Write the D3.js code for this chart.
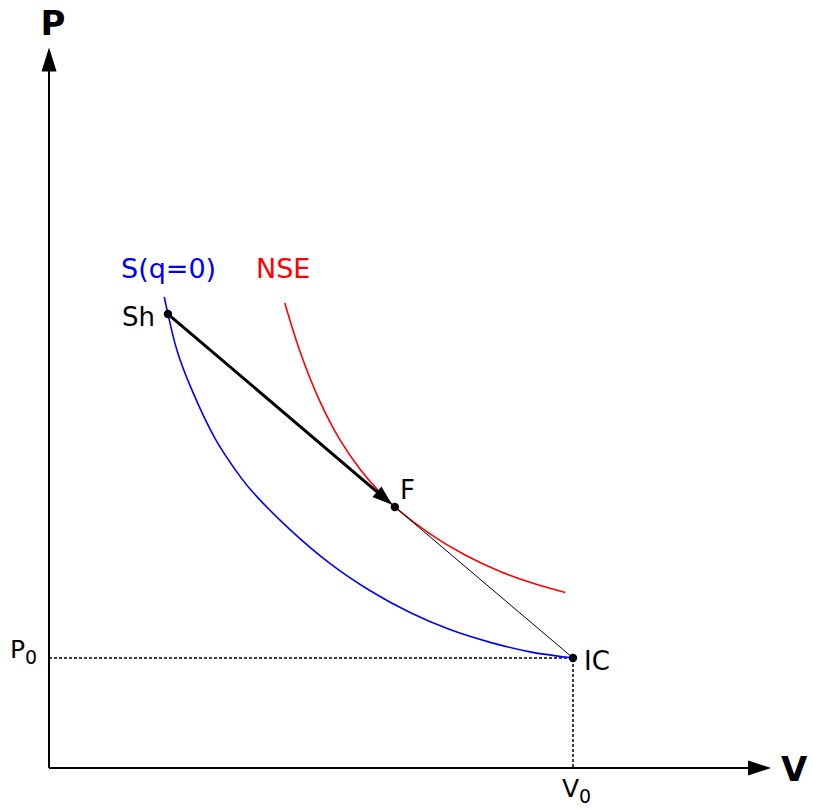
<!DOCTYPE html>
<html>
<head>
<meta charset="utf-8">
<script src="https://cdn.jsdelivr.net/npm/d3@7/dist/d3.min.js"></script>
<style>
  html, body { margin: 0; padding: 0; background: #fff; }
  svg { display: block; font-family: "DejaVu Sans", sans-serif; }
</style>
</head>
<body>
<svg id="chart" width="813" height="810"></svg>
<script>
// P–V diagram: shock adiabat S(q=0), non-equilibrium curve NSE,
// initial condition IC (V0, P0), shock state Sh and final state F.
// Values are in units of V0 and P0.

// S(q=0) curve: [V/V0, P/P0]
const shockAdiabat = [
  [0.220, 4.282], [0.227, 4.127], [0.244, 3.800], [0.269, 3.478],
  [0.317, 2.995], [0.365, 2.649], [0.387, 2.518], [0.460, 2.167],
  [0.536, 1.860], [0.613, 1.611], [0.689, 1.413], [0.765, 1.258],
  [0.842, 1.142], [0.918, 1.056], [1.000, 1.000]
];

// NSE curve: [V/V0, P/P0]
const nseCurve = [
  [0.450, 4.227], [0.479, 3.787], [0.517, 3.333], [0.555, 2.985],
  [0.594, 2.714], [0.632, 2.503], [0.660, 2.373], [0.727, 2.129],
  [0.794, 1.936], [0.861, 1.786], [0.928, 1.672], [0.985, 1.596]
];

// Named states
const states = [
  { name: "Sh", v: 0.227, p: 4.127 },
  { name: "F",  v: 0.660, p: 2.373 },
  { name: "IC", v: 1.000, p: 1.000 }
];

// Axis extents (arrow tips) and reference levels
const axisMax = { v: 1.378, p: 6.55 };
const reference = { v: 1, p: 1 };

const svg = d3.select("#chart");

const x = d3.scaleLinear().domain([0, 1]).range([49, 573]);
const y = d3.scaleLinear().domain([0, 1]).range([768, 658]);

const byName = Object.fromEntries(states.map(s => [s.name, s]));
const Sh = byName.Sh, F = byName.F, IC = byName.IC;

// Filled triangular arrow head with its tip at (tipX, tipY), pointing along (dx, dy)
function arrowHead(tipX, tipY, dx, dy, len, half) {
  const bx = tipX - dx * len, by = tipY - dy * len;
  const nx = -dy, ny = dx;
  return `M${tipX},${tipY}L${bx + nx * half},${by + ny * half}L${bx - nx * half},${by - ny * half}Z`;
}

// Axes
svg.append("line")
  .attr("x1", x(0)).attr("y1", y(0))
  .attr("x2", x(axisMax.v) - 20).attr("y2", y(0))
  .attr("stroke", "#000").attr("stroke-width", 2);
svg.append("path")
  .attr("d", arrowHead(x(axisMax.v), y(0), 1, 0, 23, 7.5))
  .attr("fill", "#000");

svg.append("line")
  .attr("x1", x(0)).attr("y1", y(0))
  .attr("x2", x(0)).attr("y2", y(axisMax.p) + 20)
  .attr("stroke", "#000").attr("stroke-width", 2);
svg.append("path")
  .attr("d", arrowHead(x(0), y(axisMax.p), 0, -1, 24, 7.5))
  .attr("fill", "#000");

svg.append("text")
  .attr("x", x(0) + 4).attr("y", 35)
  .attr("text-anchor", "middle")
  .attr("font-size", 34).attr("font-weight", "bold")
  .text("P");
svg.append("text")
  .attr("x", 781).attr("y", 781)
  .attr("font-size", 34).attr("font-weight", "bold")
  .text("V");

// Dotted reference lines to P0 and V0
svg.append("path")
  .attr("d", `M${x(0)},${y(reference.p)}H${x(reference.v)}V${y(0)}`)
  .attr("fill", "none")
  .attr("stroke", "#000").attr("stroke-width", 1.5)
  .attr("stroke-dasharray", "3,2");

// P0 / V0 labels with subscripts
const p0 = svg.append("text").attr("x", 10).attr("y", 658).attr("font-size", 25);
p0.append("tspan").text("P");
p0.append("tspan").attr("font-size", 19).attr("dy", 6).text("0");

const v0 = svg.append("text").attr("x", 562).attr("y", 797).attr("font-size", 25);
v0.append("tspan").text("V");
v0.append("tspan").attr("font-size", 19).attr("dy", 6).text("0");

// Curves
const line = d3.line()
  .x(d => x(d[0])).y(d => y(d[1]))
  .curve(d3.curveCatmullRom.alpha(0.5));

svg.append("path")
  .datum(shockAdiabat)
  .attr("d", line)
  .attr("fill", "none").attr("stroke", "#0000ff").attr("stroke-width", 1.6);

svg.append("path")
  .datum(nseCurve)
  .attr("d", line)
  .attr("fill", "none").attr("stroke", "#ff0000").attr("stroke-width", 1.6);

// Rayleigh line F → IC
svg.append("line")
  .attr("x1", x(F.v)).attr("y1", y(F.p))
  .attr("x2", x(IC.v)).attr("y2", y(IC.p))
  .attr("stroke", "#000").attr("stroke-width", 1);

// Thick arrow Sh → F
{
  const x1 = x(Sh.v), y1 = y(Sh.p), x2 = x(F.v), y2 = y(F.p);
  const len = Math.hypot(x2 - x1, y2 - y1);
  const ux = (x2 - x1) / len, uy = (y2 - y1) / len;
  const tipX = x2 - ux * 3.5, tipY = y2 - uy * 3.5;
  const headLen = 20;
  svg.append("line")
    .attr("x1", x1).attr("y1", y1)
    .attr("x2", tipX - ux * (headLen - 4)).attr("y2", tipY - uy * (headLen - 4))
    .attr("stroke", "#000").attr("stroke-width", 3);
  svg.append("path")
    .attr("d", arrowHead(tipX, tipY, ux, uy, headLen, 7))
    .attr("fill", "#000");
}

// State markers
svg.selectAll("circle.state")
  .data(states)
  .join("circle")
  .attr("class", "state")
  .attr("cx", d => x(d.v)).attr("cy", d => y(d.p))
  .attr("r", 4.2)
  .attr("fill", "#000");

// Labels
svg.append("text").attr("x", 122).attr("y", 326).attr("font-size", 26).text("Sh");
svg.append("text").attr("x", 400).attr("y", 499).attr("font-size", 26).text("F");
svg.append("text").attr("x", 584).attr("y", 670).attr("font-size", 26).text("IC");

svg.append("text").attr("x", 121).attr("y", 278).attr("font-size", 27)
  .attr("fill", "#0000ff").text("S(q=0)");
svg.append("text").attr("x", 256).attr("y", 278).attr("font-size", 27)
  .attr("fill", "#ff0000").text("NSE");
</script>
</body>
</html>
